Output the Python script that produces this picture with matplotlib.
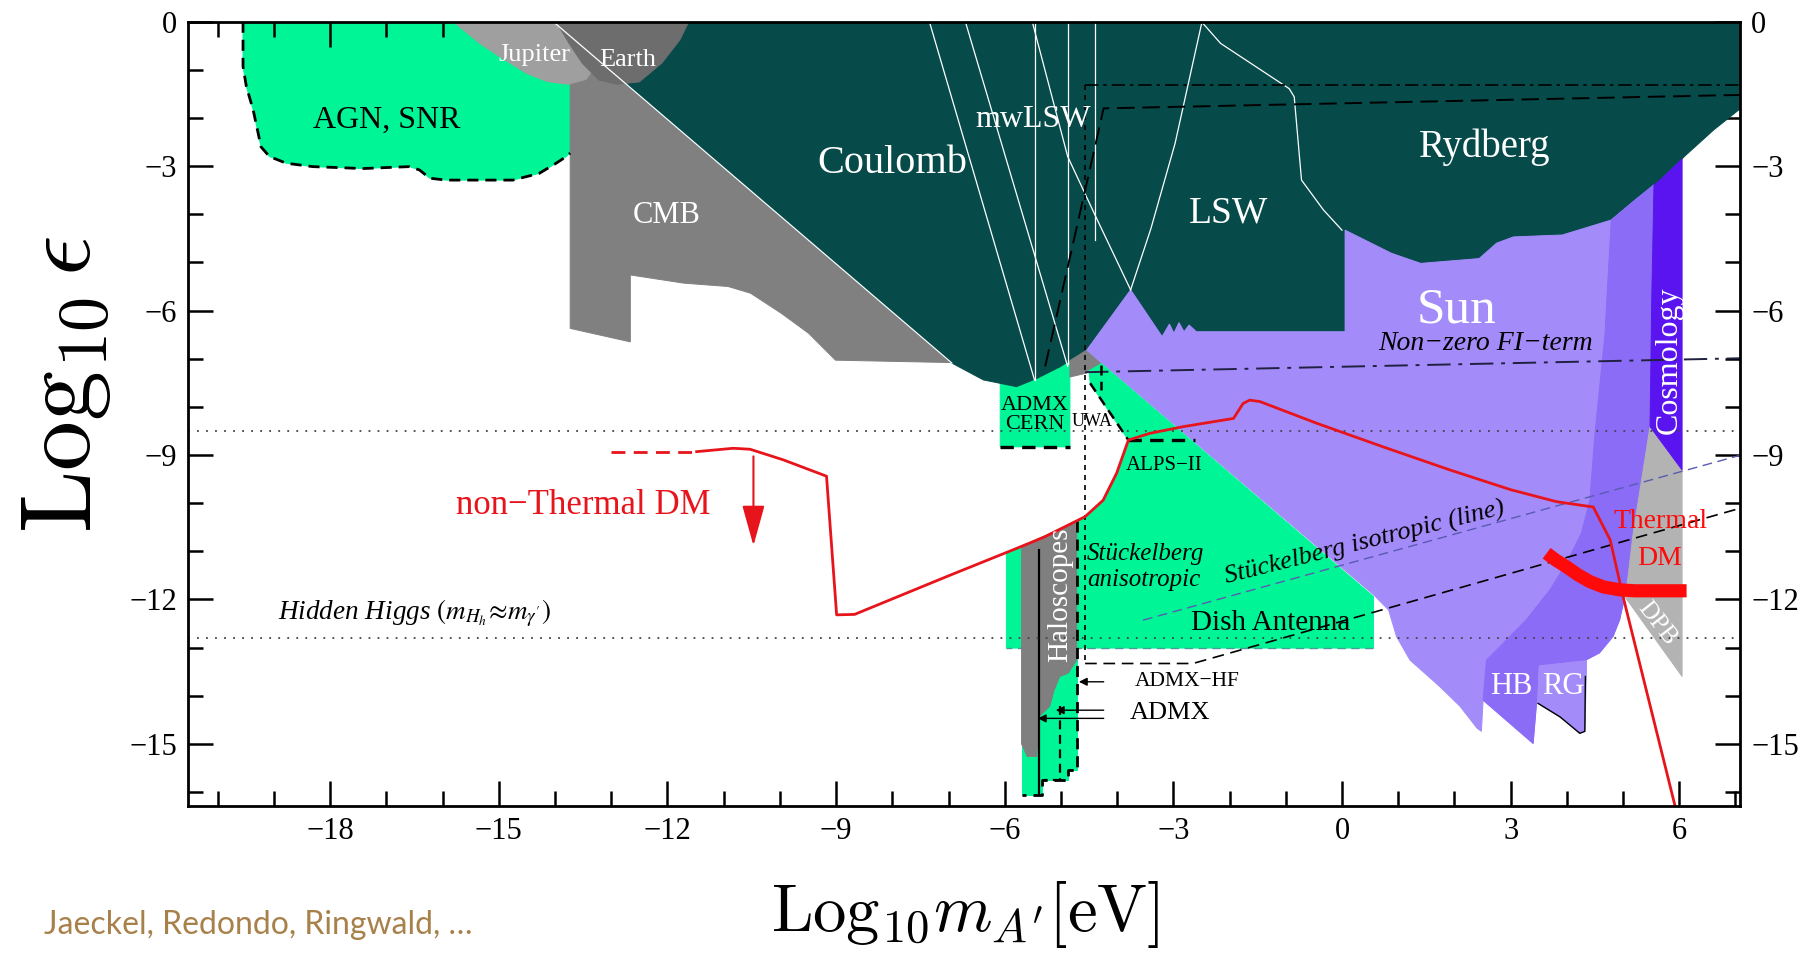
import matplotlib
matplotlib.use("Agg")
import matplotlib.pyplot as plt
import numpy as np

plt.rcParams['font.family'] = ['Liberation Serif', 'DejaVu Serif']
plt.rcParams['mathtext.fontset'] = 'cm'

# boundaries, (log10 m [eV], log10 eps)
agn_x = [-19.55, -19.55, -19.49, -19.37, -19.28, -19.23, -19.08, -18.78, -18.31, -17.42,
         -16.59, -16.41, -16.23, -15.94, -14.75, -14.28, -13.98, -13.80, -13.73]
agn_y = [0.0, -0.93, -1.35, -1.83, -2.32, -2.60, -2.80, -2.94, -3.01, -3.05,
         -3.01, -3.08, -3.25, -3.29, -3.29, -3.15, -2.94, -2.80, -2.73]

cmb_x = [-13.73, -13.73, -12.66, -12.66, -11.71, -10.92, -10.52, -9.97, -9.49, -9.01, -6.94]
cmb_y = [-0.30, -6.37, -6.65, -5.26, -5.43, -5.50, -5.64, -6.06, -6.47, -7.03, -7.08]

jupiter_x = [-15.81, -15.34, -14.98, -14.51, -14.15, -13.77, -13.45, -13.2, -13.1]
jupiter_y = [0.0, -0.45, -0.73, -1.07, -1.24, -1.30, -1.20, -0.80, 0.0]

earth_x = [-13.98, -13.75, -13.51, -13.22, -12.90, -12.50, -12.10, -11.78, -11.62]
earth_y = [0.0, -0.45, -0.87, -1.21, -1.30, -1.25, -0.86, -0.38, 0.0]

# lower edge of Coulomb (left to right)
coulomb_x = [-6.94, -6.38, -5.79, -5.43, -5.02, -4.54]
coulomb_y = [-7.09, -7.44, -7.58, -7.41, -7.17, -6.82]
# lower edge of LSW
lsw_x = [-4.54, -3.76, -3.20, -3.07, -2.99, -2.90, -2.81, -2.72, -2.59, 0.055, 0.055]
lsw_y = [-6.82, -5.57, -6.54, -6.28, -6.47, -6.25, -6.44, -6.30, -6.44, -6.44, -4.33]
# lower edge of Rydberg
ryd_x = [0.055, 0.88, 1.40, 2.44, 2.75, 3.05, 3.92, 4.79, 5.22, 5.55, 5.66, 6.05, 6.09, 6.61, 7.2]
ryd_y = [-4.33, -4.81, -5.02, -4.92, -4.60, -4.47, -4.43, -4.12, -3.70, -3.39, -3.29, -2.85, -2.80, -2.25, -1.70]

# stellar bounds
edge_x = [5.55, 5.51, 5.48, 5.18, 5.09, 5.03, 4.94, 4.82, 4.58, 4.35]
edge_y = [-3.39, -5.78, -8.41, -10.62, -11.52, -11.94, -12.42, -12.77, -13.11, -13.25]
teeth_x = [4.35, 4.32, 4.23, 3.88, 3.49, 3.46, 3.40, 2.51, 2.48, 2.40, 2.10, 1.74, 1.21, 0.97, 0.83, 0.56]
teeth_y = [-13.39, -14.74, -14.78, -14.44, -14.16, -14.16, -14.99, -14.09, -14.74, -14.67,
           -14.22, -13.81, -13.26, -12.77, -12.22, -11.90]
hb_x = [2.51, 2.57, 2.81, 3.28, 3.70, 3.99, 4.26, 4.41, 4.50, 4.59, 4.68, 4.71, 4.79]
hb_y = [-14.09, -13.26, -12.98, -12.42, -11.80, -11.25, -10.62, -9.93, -8.55, -7.51, -6.47, -5.78, -4.12]
rg_x = [3.49, 3.88, 4.23, 4.32, 4.33]
rg_y = [-14.16, -14.44, -14.78, -14.74, -13.60]

dpb_x = [5.48, 5.18, 5.09, 5.03, 6.05, 6.05]
dpb_y = [-8.41, -10.62, -11.52, -11.94, -13.60, -9.31]
cosmo_x = [5.55, 5.66, 6.05, 6.05, 5.48, 5.51]
cosmo_y = [-3.39, -3.29, -2.85, -9.31, -8.41, -5.78]

# experiments
admx_cern_x = [-6.08, -4.84, -4.84, -6.08]
admx_cern_y = [-7.30, -7.00, -8.83, -8.83]
gap_x = [-4.54, -4.84, -4.84, -4.55, -4.28]
gap_y = [-6.82, -7.04, -7.38, -7.30, -7.10]
stueck_x = [-4.28, 0.56, 0.56, -5.97, -5.97]
stueck_y = [-7.10, -11.94, -13.01, -13.01, -11.04]
uwa_x = [-4.48, -4.50, -4.28]
uwa_y = [-7.51, -7.25, -7.10]

halo_x = [-4.72, -4.72, -4.87, -4.87, -5.33, -5.33, -5.70, -5.70]
halo_y = [-10.37, -15.54, -15.54, -15.75, -15.75, -16.06, -16.06, -10.90]
halo_grey_x = [-5.70, -4.72, -4.72, -4.87, -5.02, -5.12, -5.20, -5.39, -5.43, -5.60, -5.70]
halo_grey_y = [-10.90, -10.37, -13.26, -13.53, -13.60, -13.88, -14.22, -14.43, -15.26, -15.26, -15.0]

# dark matter lines
nt_dash_x = [-13.0, -11.48]
nt_dash_y = [-8.93, -8.93]
nt_x = [-11.48, -10.83, -10.53, -9.94, -9.17, -8.99, -8.67, -6.98, -5.79, -5.29, -4.57, -4.25,
        -4.01, -3.80, -3.42, -2.82, -1.93, -1.76, -1.64, -1.46, -0.45, 0.73, 1.92, 3.0, 3.82,
        4.47, 4.77, 5.0, 5.98]
nt_y = [-8.93, -8.86, -8.88, -9.10, -9.44, -12.32, -12.31, -11.50, -10.94, -10.70, -10.28, -9.94,
        -9.38, -8.69, -8.55, -8.41, -8.24, -7.93, -7.86, -7.89, -8.34, -8.83, -9.31, -9.72, -9.97,
        -10.08, -10.76, -11.94, -16.55]
th_x = [3.64, 3.80, 3.99, 4.20, 4.41, 4.65, 4.94, 5.20, 6.13]
th_y = [-11.04, -11.18, -11.32, -11.49, -11.63, -11.74, -11.80, -11.82, -11.82]

hidden_higgs_y = [-8.51, -12.80]
fi_x = [-4.57, 7.1]
fi_y = [-7.28, -6.99]
iso_x = [-3.54, 7.1]
iso_y = [-12.43, -9.0]
dish_x = [-4.57, -2.65, 7.1]
dish_y = [-13.33, -13.33, -10.1]

BRIGHT = '#00f596'
DARK = '#064a4a'
SUN = '#a38cfa'
HB = '#8b6cf6'
EW = 0.7  # edge width of the filled regions, hides seams

fig = plt.figure(figsize=(18.14, 9.56), dpi=100)
ax = fig.add_axes([0.1036, 0.1569, 0.8556, 0.8204])

ax.fill(agn_x + [-13.73], agn_y + [0.0], color=BRIGHT, lw=EW, zorder=1)
ax.plot(agn_x, agn_y, color='k', ls=(0, (4, 2.5)), lw=2, zorder=6)
ax.fill(cmb_x, cmb_y, color='#808080', lw=EW, zorder=1)

dark_x = [-14.03, 7.2] + ryd_x[::-1] + lsw_x[::-1][1:] + coulomb_x[::-1][1:]
dark_y = [0.0, 0.0] + ryd_y[::-1] + lsw_y[::-1][1:] + coulomb_y[::-1][1:]
ax.fill(admx_cern_x, admx_cern_y, color=BRIGHT, lw=EW, zorder=1)
ax.fill(dark_x, dark_y, color=DARK, lw=EW, zorder=2)
ax.fill(gap_x, gap_y, color='#808080', lw=EW, zorder=2)
ax.fill(jupiter_x, jupiter_y, color='#9f9f9f', lw=EW, zorder=3)
ax.fill(earth_x, earth_y, color='#6d6d6d', lw=EW, zorder=3)

i5 = ryd_x.index(5.55)
sun_x = lsw_x + ryd_x[1:i5] + edge_x + teeth_x
sun_y = lsw_y + ryd_y[1:i5] + edge_y + teeth_y
ax.fill(sun_x, sun_y, color=SUN, lw=EW, zorder=2)
i4 = ryd_x.index(4.79)
hbr_x = ryd_x[i4:i5] + edge_x + [3.49, 3.46, 3.40] + hb_x
hbr_y = ryd_y[i4:i5] + edge_y + [-13.36, -14.16, -14.99] + hb_y
ax.fill(hbr_x, hbr_y, color=HB, lw=EW, zorder=2)
ax.plot(rg_x, rg_y, color='k', lw=1, zorder=3)
ax.fill(dpb_x, dpb_y, color='#b3b3b3', lw=EW, zorder=2)
ax.fill(cosmo_x, cosmo_y, color='#5a14f0', lw=EW, zorder=2)

# anisotropic region, upper-left edge follows the DM line
sel = [i for i, v in enumerate(nt_x) if -5.97 < v <= -3.80]
g_x = stueck_x + [nt_x[i] for i in sel] + uwa_x
g_y = stueck_y + [nt_y[i] for i in sel] + uwa_y
ax.fill(g_x, g_y, color=BRIGHT, lw=EW, zorder=2)
ax.plot([0.56, -5.97], [-13.01, -13.01], color='#4a9a9a', ls=(0, (6, 4)), lw=1, zorder=3)

ax.fill(halo_x, halo_y, color=BRIGHT, lw=EW, zorder=3)
ax.fill(halo_grey_x, halo_grey_y, color='#7f7f7f', lw=EW, zorder=3)
ax.plot(halo_x[:-1], halo_y[:-1], color='k', ls=(0, (4, 2.5)), lw=2, zorder=6)
ax.plot([-5.02, -5.02, -5.31], [-14.22, -15.75, -15.75], color='k', ls=(0, (4, 2.5)), lw=1.6, zorder=6)
ax.plot([-5.39, -5.39], [-10.97, -16.06], color='k', lw=1.6, zorder=6)

# thin white boundaries inside the dark region
white_lines = [
    ([-14.03, -6.94], [0.0, -7.09]),
    ([-7.34, -5.47], [0.0, -7.44]),
    ([-6.70, -4.88], [0.0, -7.16]),
    ([-5.47, -5.47], [0.0, -7.44]),
    ([-4.88, -4.88], [0.0, -7.10]),
    ([-4.40, -4.40], [0.0, -4.53]),
    ([-5.51, -4.88, -4.40, -3.76], [0.0, -2.80, -4.0, -5.57]),
    ([-2.49, -2.97, -3.40, -3.76], [0.0, -2.53, -4.30, -5.57]),
    ([-2.50, -2.16, -0.94, -0.85, -0.72, -0.33, 0.0], [0.0, -0.45, -1.39, -1.56, -3.29, -3.91, -4.33]),
]
for wx, wy in white_lines:
    ax.plot(wx, wy, color='white', lw=0.9, zorder=4)

# projected sensitivities
ax.plot([-4.57, -4.57], [-1.31, -13.33], color='k', ls=(0, (3, 3)), lw=1.2, zorder=6)
ax.plot(dish_x, dish_y, color='k', ls=(0, (7, 4)), lw=1.2, zorder=6)
ax.plot([-4.57, 7.1], [-1.31, -1.31], color='k', ls=(0, (8, 3, 2, 3)), lw=1.2, zorder=6)
ax.plot([-5.28, -4.24, 7.1], [-7.16, -1.80, -1.52], color='k', ls=(0, (9, 4)), lw=1.4, zorder=6)
ax.plot(fi_x, fi_y, color='#202040', ls=(0, (12, 4, 2, 4)), lw=1.4, zorder=6)
ax.plot(iso_x, iso_y, color='#5a5ab0', ls=(0, (7, 4)), lw=1, zorder=6)
ax.plot([-3.80, -2.61], [-8.69, -8.69], color='k', ls=(0, (4, 2.5)), lw=2.4, zorder=6)
ax.plot([-4.48, -3.80], [-7.51, -8.69], color='k', ls=(0, (4, 2.5)), lw=1.8, zorder=6)
ax.plot([-4.28, -4.28], [-7.13, -7.65], color='k', ls=(0, (4, 2.5)), lw=1.8, zorder=6)
ax.plot([-6.08, -4.84], [-8.83, -8.83], color='k', ls=(0, (4, 2.5)), lw=2.4, zorder=6)
for yv in hidden_higgs_y:
    ax.axhline(yv, color='#444444', ls=(0, (1, 4)), lw=1.3, zorder=6)

# dark matter
ax.plot(nt_dash_x, nt_dash_y, color='#e8141c', ls=(0, (5, 3)), lw=2, zorder=7)
ax.plot(nt_x, nt_y, color='#e8141c', lw=2, zorder=7)
ax.annotate('', xy=(-10.47, -10.94), xytext=(-10.47, -8.97),
            arrowprops=dict(arrowstyle='-|>,head_width=0.25,head_length=0.9', color='#e8141c',
                            lw=1.5, mutation_scale=28), zorder=7)
ax.plot(th_x, th_y, color='#ff0a0a', lw=9.5, solid_capstyle='butt', solid_joinstyle='round', zorder=7)

# arrows to ADMX labels
for ya, xa in [(-13.71, -4.73), (-14.30, -5.14), (-14.47, -5.46)]:
    ax.annotate('', xy=(xa, ya), xytext=(-4.19, ya),
                arrowprops=dict(arrowstyle='-|>', color='k', lw=1, mutation_scale=12), zorder=7)


def label(x, y, s, size, color='k', **kw):
    ax.text(x, y, s, fontsize=size, color=color, ha=kw.pop('ha', 'center'), va='center', zorder=8, **kw)


label(-14.37, -0.70, 'Jupiter', 19, 'white')
label(-12.70, -0.80, 'Earth', 19, 'white')
label(-17.0, -2.04, 'AGN, SNR', 23)
label(-12.01, -4.02, 'CMB', 22, 'white')
label(-7.99, -2.94, 'Coulomb', 29, 'white')
label(-5.50, -2.04, 'mwLSW', 23, 'white')
label(-2.01, -3.97, 'LSW', 27, 'white')
label(2.53, -2.60, 'Rydberg', 28, 'white')
label(2.03, -5.99, 'Sun', 37, 'white')
label(2.56, -6.68, 'Non\u2212zero FI\u2212term', 20, style='italic')
label(5.83, -7.03, 'Cosmology', 23, 'white', rotation=90)
label(-5.46, -8.17, 'ADMX\nCERN', 16, linespacing=1.05)
label(-4.45, -8.31, 'UWA', 13)
label(-3.17, -9.21, 'ALPS\u2212II', 15)
label(-4.54, -11.33, 'St\u00fcckelberg\nanisotropic', 18, style='italic', ha='left', linespacing=1.2)
label(0.41, -10.83, 'St\u00fcckelberg isotropic (line)', 19, style='italic', rotation=14)
label(-1.27, -12.49, 'Dish Antenna', 21)
label(-5.02, -11.91, 'Haloscopes', 21, 'white', rotation=90)
label(-2.75, -13.71, 'ADMX\u2212HF', 15.5)
label(-3.06, -14.36, 'ADMX', 19)
label(3.02, -13.81, 'HB', 22, 'white')
label(3.94, -13.81, 'RG', 22, 'white')
label(5.66, -10.38, 'Thermal', 20, '#ff0a0a')
label(5.65, -11.14, 'DM', 20, '#ff0a0a')
label(5.60, -12.49, 'DPB', 18, 'white', rotation=-52)
label(-13.50, -10.05, 'non\u2212Thermal DM', 25, '#e8141c')
ax.text(-16.49, -12.29, r'Hidden Higgs $(m_{H_h}\!\approx\! m_{\gamma^\prime})$', fontsize=19.5,
        style='italic', ha='center', va='center', math_fontfamily='stix', zorder=8)

ax.set_xlim(-20.53, 7.08)
ax.set_ylim(-16.29, 0)
ax.set_xticks(np.arange(-18, 7, 3))
ax.set_xticks(np.arange(-20, 8, 1), minor=True)
ax.set_yticks(np.arange(-15, 1, 3))
ax.set_yticks(np.arange(-16, 1, 1), minor=True)
ax.tick_params(which='both', direction='in', top=True, right=True, labelright=True,
               labelsize=22, width=1.8, pad=8)
ax.tick_params(which='major', length=18)
ax.tick_params(which='minor', length=11)
for sp in ax.spines.values():
    sp.set_linewidth(2)
    sp.set_zorder(9)

fig.text(0.0364, 0.598, r'$\mathrm{Log}_{10}\,\epsilon$', fontsize=72, rotation=90,
         ha='center', va='center')
fig.text(0.532, 0.043, r'$\mathrm{Log}_{10} m_{A^\prime}[\mathrm{eV}]$', fontsize=48,
         ha='center', va='center')
fig.text(0.024, 0.032, 'Jaeckel, Redondo, Ringwald, \u2026', fontsize=23, color='#a8804a',
         family=['Lato', 'DejaVu Sans'], ha='left', va='center')

fig.savefig('out.png', dpi=100)
